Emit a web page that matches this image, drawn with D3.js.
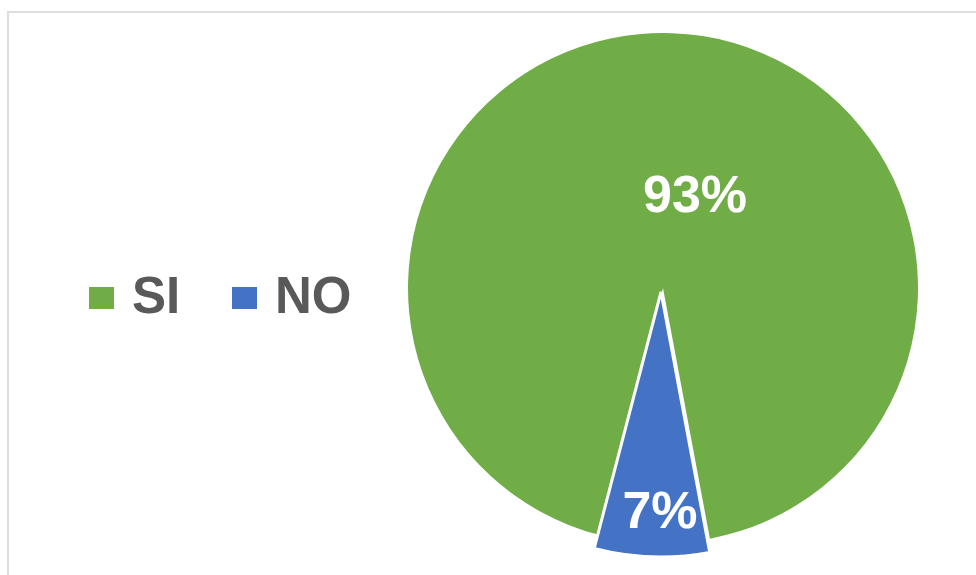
<!DOCTYPE html>
<html>
<head>
<meta charset="utf-8">
<script src="https://cdn.jsdelivr.net/npm/d3@7"></script>
<style>
  html, body { margin: 0; padding: 0; background: #ffffff; }
  svg { display: block; }
</style>
</head>
<body>
<svg id="chart" width="976" height="575"></svg>
<script>
// Survey answers and their shares (percent)
const categories = ["SI", "NO"];
const values = [93, 7];
const colors = ["#70AD47", "#4472C4"];

const svg = d3.select("#chart");
const W = 976, H = 575;

// chart area frame
svg.append("rect")
  .attr("x", 8).attr("y", 12)
  .attr("width", W).attr("height", H)
  .attr("fill", "#ffffff")
  .attr("stroke", "#dedede")
  .attr("stroke-width", 2);

const cx = 663, cy = 288, R = 255;
const explodedR = 265;
const explodeOffset = { x: -2, y: 4 };

// NO slice sits at the bottom, tilted slightly left
const tilt = 2 * Math.PI / 180;
const noSpan = values[1] / d3.sum(values) * 2 * Math.PI;
const start = Math.PI + tilt + noSpan / 2;

const pie = d3.pie().sort(null).value(d => d)
  .startAngle(start).endAngle(start + 2 * Math.PI);
const arcs = pie(values);

const arcMain = d3.arc().innerRadius(0).outerRadius(R);
const arcExploded = d3.arc().innerRadius(0).outerRadius(explodedR);

const g = svg.append("g").attr("transform", `translate(${cx},${cy})`);

g.selectAll("path.slice")
  .data(arcs)
  .join("path")
  .attr("class", "slice")
  .attr("transform", (d, i) => i === 1 ? `translate(${explodeOffset.x},${explodeOffset.y})` : null)
  .attr("d", (d, i) => i === 1 ? arcExploded(d) : arcMain(d))
  .attr("fill", (d, i) => colors[i])
  .attr("stroke", "#ffffff")
  .attr("stroke-width", (d, i) => i === 1 ? 3 : 0)
  .attr("stroke-linejoin", "miter");

// percentage labels
const labelPos = [[32, -76], [-3, 240]];
g.selectAll("text.pct")
  .data(arcs)
  .join("text")
  .attr("class", "pct")
  .attr("x", (d, i) => labelPos[i][0])
  .attr("y", (d, i) => labelPos[i][1])
  .attr("text-anchor", "middle")
  .attr("font-family", "'Liberation Sans', Arial, sans-serif")
  .attr("font-weight", "bold")
  .attr("font-size", 52)
  .attr("fill", "#ffffff")
  .text(d => d.data + "%");

// legend
const legend = svg.append("g");
const legendX = [89, 232];
const items = legend.selectAll("g.item")
  .data(categories)
  .join("g")
  .attr("class", "item")
  .attr("transform", (d, i) => `translate(${legendX[i]},287)`);

items.append("rect")
  .attr("width", 25).attr("height", 22)
  .attr("fill", (d, i) => colors[i]);

items.append("text")
  .attr("x", 43).attr("y", 26)
  .attr("font-family", "'Liberation Sans', Arial, sans-serif")
  .attr("font-weight", "bold")
  .attr("font-size", 51)
  .attr("fill", "#595959")
  .text(d => d);
</script>
</body>
</html>
